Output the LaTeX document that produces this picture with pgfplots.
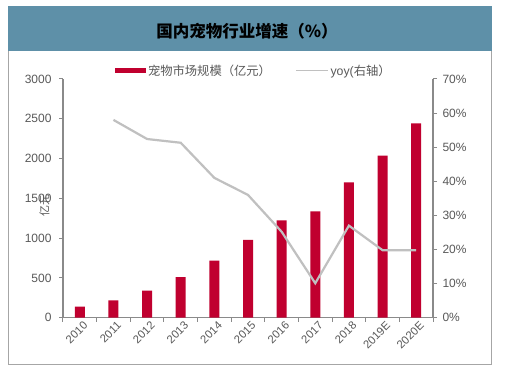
\documentclass[border=0pt]{standalone}
\usepackage{pgfplots}
\pgfplotsset{compat=1.18}
\usepackage{fontspec}
\setmainfont{Liberation Sans}
\newfontfamily\cjk{Noto Sans CJK SC}
\definecolor{barred}{HTML}{C0002F}
\definecolor{linegray}{HTML}{C0C0C0}
\definecolor{titlebg}{HTML}{5E90A8}
\definecolor{axgray}{HTML}{8A8A8A}
\definecolor{labgray}{HTML}{595959}
\begin{document}
\begin{tikzpicture}[x=1pt,y=1pt]
\useasboundingbox (0,0) rectangle (515,371);
\fill[white] (0,0) rectangle (515,371);
\fill[titlebg] (8,319.5) rectangle (491.5,365);
\draw[gray!70, line width=0.8pt] (8,319.5) -- (8,7) -- (491.5,7) -- (491.5,319.5);
\node[font=\cjk\bfseries\fontsize{16.5}{16.5}\selectfont] at (247,339.5) {国内宠物行业增速（\%）};

\begin{axis}[
  at={(63pt,53.3pt)}, anchor=south west, scale only axis,
  width=370pt, height=238.7pt,
  xmin=-0.5, xmax=10.5, ymin=0, ymax=3000,
  axis y line*=left, axis x line*=bottom,
  axis line style={axgray, line width=1.2pt},
  ytick={0,500,...,3000},
  minor ytick={0,500,...,3000},
  xtick={0,1,...,10},
  xticklabels={2010,2011,2012,2013,2014,2015,2016,2017,2018,2019E,2020E},
  minor xtick={-0.5,0.5,...,10.5},
  x tick label style={rotate=45, anchor=north east, font=\fontsize{11.3}{11.3}\selectfont, color=labgray, inner sep=1pt, yshift=-3pt, xshift=1pt},
  y tick label style={font=\fontsize{12}{12}\selectfont, color=labgray, xshift=-8pt},
  tick align=outside, major tick length=0pt, minor tick length=4pt,
  tick style={axgray, line width=1pt},
  /pgf/number format/assume math mode=true,
  /pgf/number format/set thousands separator={},
  ylabel={\cjk 亿元},
  ylabel style={at={(axis description cs:-0.05,0.47)}, anchor=center, font=\fontsize{11}{11}\selectfont, color=labgray},
  legend columns=2,
  legend cell align=left,
  legend style={at={(axis description cs:0.132,1.035)}, anchor=west, draw=none, fill=none,
    font=\cjk\fontsize{12.3}{12.3}\selectfont, text=labgray,
    /tikz/every even column/.append style={column sep=22pt}},
]
\addplot[ybar, bar width=10pt, fill=barred, draw=none,
  legend image code/.code={\fill[barred] (0pt,-2.5pt) rectangle (31pt,2.5pt);}]
  coordinates {(0,138) (1,219) (2,339) (3,511) (4,716) (5,977) (6,1224) (7,1337) (8,1702) (9,2036) (10,2443)};
\addlegendentry{宠物市场规模（亿元）}
\addlegendimage{legend image code/.code={\draw[linegray,line width=1.5pt] (0pt,0pt) -- (32pt,0pt);}}
\addlegendentry{{\setmainfont{Liberation Sans}\rmfamily yoy(}右轴）}
\end{axis}

\begin{axis}[
  at={(63pt,53.3pt)}, anchor=south west, scale only axis,
  width=370pt, height=238.7pt,
  xmin=-0.5, xmax=10.5, ymin=0, ymax=70,
  axis y line*=right, axis x line=none,
  axis line style={axgray, line width=1.2pt},
  ytick={0,10,...,70},
  minor ytick={0,10,...,70},
  yticklabel={\pgfmathprintnumber{\tick}\%},
  y tick label style={font=\fontsize{12}{12}\selectfont, color=labgray, xshift=6pt},
  tick align=outside, major tick length=0pt, minor tick length=4pt,
  tick style={axgray, line width=1pt},
  /pgf/number format/assume math mode=true,
]
\addplot[linegray, line width=2.2pt] coordinates {(1,58.0) (2,52.4) (3,51.3) (4,41.0) (5,36.0) (6,25.2) (7,10.1) (8,27.0) (9,19.8) (10,19.8)};
\end{axis}
\end{tikzpicture}
\end{document}
